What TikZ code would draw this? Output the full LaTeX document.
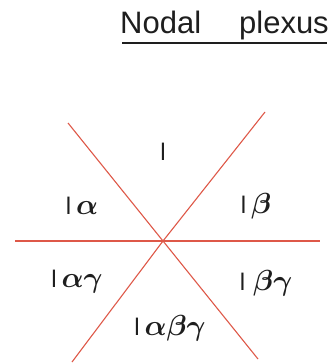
\RequirePackage{fix-cm}
\documentclass[tikz,border=0pt]{standalone}
\usepackage{fontspec}
\usepackage{amsmath}
\setmainfont{Liberation Sans}
\definecolor{redline}{RGB}{222,88,72}
\definecolor{ink}{RGB}{30,30,30}
\newcommand{\lsym}{{\fontsize{24}{26}\selectfont l}}
\newcommand{\gk}[1]{\ensuremath{\boldsymbol{#1}}}
\begin{document}
\begin{tikzpicture}[x=1pt,y=-1pt,
  redl/.style={draw=redline,line width=1.1pt},
  lab/.style={text=ink,font=\fontsize{29}{32}\selectfont,inner sep=0pt,anchor=center}]
\useasboundingbox (0,0) rectangle (336,364);
\node[text=ink,font=\fontsize{31}{33}\selectfont,anchor=base west,inner sep=0pt] (title) at (120,33) {Nodal\hspace{38pt}plexus};
\draw[ink,line width=1.8pt] (122,43) -- (327,43);
\coordinate (c) at (163,241);
\coordinate (h1) at (15,241);
\coordinate (h2) at (320,241);
\coordinate (a1) at (68,123);
\coordinate (a2) at (258,359);
\coordinate (b1) at (265,112);
\coordinate (b2) at (72,362);
\draw[redl] (h1) -- (c) -- (h2);
\draw[redl] (a1) -- (c) -- (a2);
\draw[redl] (b1) -- (c) -- (b2);
\node[lab] (n1) at (163,152) {\lsym};
\node[lab] (n2) at (82,206) {\lsym\,$\gk{\alpha}$};
\node[lab] (n3) at (256,206) {\lsym\,$\gk{\beta}$};
\node[lab] (n4) at (77,282) {\lsym\,$\gk{\alpha}\gk{\gamma}$};
\node[lab] (n5) at (266,283) {\lsym\;$\gk{\beta}\gk{\gamma}$};
\node[lab] (n6) at (170,328) {\lsym\,$\gk{\alpha}\gk{\beta}\gk{\gamma}$};
\end{tikzpicture}
\end{document}
